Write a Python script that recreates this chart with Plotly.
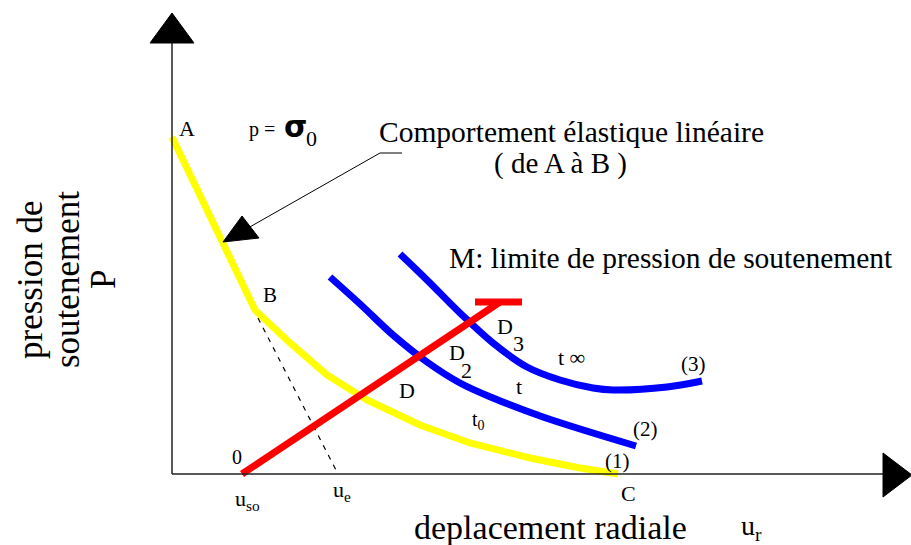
import plotly.graph_objects as go

# Origin of the diagram at axes crossing; u = radial displacement, P = support pressure (schematic units)
# Curve (1): ground reaction curve A -> B (elastic, linear) -> C
curve1_u = [0, 83, 118, 155, 195, 248, 298, 358, 408, 446]
curve1_p = [337, 164, 131, 99, 74, 49, 31, 16, 6, 0]

# Curve (2): at time t
curve2_u = [158, 188, 221, 255, 288, 321, 371, 464]
curve2_p = [197, 170, 139, 112, 91, 76, 57, 28]

# Curve (3): at time t-infinity
curve3_u = [228, 255, 288, 321, 355, 388, 421, 441, 495, 530]
curve3_p = [220, 194, 161, 131, 107, 94, 86, 84, 87, 93]

# Support confinement line (red) from u_so, with its pressure limit M
support_u = [70, 328, None, 303, 350]
support_p = [0, 172, None, 172, 172]

# Elastic extension from B down to u_e (dashed)
elastic_u = [86, 166]
elastic_p = [156, 0]

FONT = "Liberation Serif"


def px(x):
    return x - 172


def py(y):
    return 474 - y


fig = go.Figure()

fig.add_trace(go.Scatter(x=elastic_u, y=elastic_p, mode="lines",
                         line=dict(color="black", width=1.2, dash="5px,6px"), hoverinfo="skip"))
fig.add_trace(go.Scatter(x=curve1_u, y=curve1_p, mode="lines",
                         line=dict(color="#ffff00", width=7), hoverinfo="skip"))
fig.add_trace(go.Scatter(x=curve2_u, y=curve2_p, mode="lines", line_shape="spline",
                         line=dict(color="#0000ff", width=7), hoverinfo="skip"))
fig.add_trace(go.Scatter(x=curve3_u, y=curve3_p, mode="lines", line_shape="spline",
                         line=dict(color="#0000ff", width=7), hoverinfo="skip"))
fig.add_trace(go.Scatter(x=support_u, y=support_p, mode="lines",
                         line=dict(color="#ff0000", width=7), hoverinfo="skip"))

shapes = []
# axes
shapes.append(dict(type="line", x0=0, y0=0, x1=0, y1=py(43), line=dict(color="#222", width=1.5)))
shapes.append(dict(type="line", x0=0, y0=0, x1=px(883), y1=0, line=dict(color="#222", width=1.5)))
# arrow heads
shapes.append(dict(type="path",
                   path=f"M {px(150)},{py(43)} L {px(172)},{py(13)} L {px(194)},{py(43)} Z",
                   fillcolor="black", line=dict(color="black", width=1)))
shapes.append(dict(type="path",
                   path=f"M {px(883)},{py(453)} L {px(912)},{py(475)} L {px(883)},{py(497)} Z",
                   fillcolor="black", line=dict(color="black", width=1)))
# annotation pointer for elastic behaviour
shapes.append(dict(type="line", x0=px(402), y0=py(153), x1=px(380), y1=py(153),
                   line=dict(color="black", width=1)))
shapes.append(dict(type="line", x0=px(380), y0=py(153), x1=px(248), y1=py(228),
                   line=dict(color="black", width=1)))
shapes.append(dict(type="path",
                   path=f"M {px(242)},{py(216)} L {px(259)},{py(238)} L {px(223)},{py(242)} Z",
                   fillcolor="black", line=dict(color="black", width=1)))
fig.update_layout(shapes=shapes)

labels = [
    ("A", 187, 128, 22, FONT),
    ("p =", 262, 129, 20, FONT),
    ("<b>σ</b>", 295, 126, 30, "DejaVu Sans"),
    ("0", 311, 138, 22, FONT),
    ("Comportement élastique linéaire", 571, 132, 29.5, FONT),
    ("( de A à B )", 560, 163, 29, FONT),
    ("M: limite de pression de soutenement", 671, 258, 29.5, FONT),
    ("B", 270, 295, 21, FONT),
    ("D", 407, 390, 22, FONT),
    ("D", 457, 352, 22, FONT),
    ("2", 466, 370, 22, FONT),
    ("D", 505, 326, 22, FONT),
    ("3", 518, 343, 22, FONT),
    ("t", 519, 386, 22, FONT),
    ("t ∞", 571, 357, 22, FONT),
    ("t<sub>0</sub>", 478, 420, 20, FONT),
    ("(3)", 693, 364, 21, FONT),
    ("(2)", 645, 429, 21, FONT),
    ("(1)", 617, 461, 21, FONT),
    ("0", 237, 457, 20, FONT),
    ("u<sub>so</sub>", 247, 500, 22, FONT),
    ("u<sub>e</sub>", 342, 491, 22, FONT),
    ("C", 628, 493, 22, FONT),
    ("deplacement radiale", 550, 527, 34, FONT),
    ("u<sub>r</sub>", 751, 527, 28, FONT),
]
annotations = []
for text, x, y, size, fam in labels:
    annotations.append(dict(text=text, x=px(x), y=py(y), xref="x", yref="y", showarrow=False,
                            xanchor="center", yanchor="middle",
                            font=dict(family=fam, size=size, color="black")))

for text, x in [("pression de", 30), ("soutenement", 67), ("P", 103)]:
    annotations.append(dict(text=text, x=px(x), y=py(280), xref="x", yref="y", showarrow=False,
                            textangle=-90, xanchor="center", yanchor="middle",
                            font=dict(family=FONT, size=35, color="black")))
fig.update_layout(annotations=annotations)

fig.update_layout(
    width=911, height=545,
    margin=dict(l=0, r=0, t=0, b=0),
    paper_bgcolor="white", plot_bgcolor="white",
    showlegend=False,
    xaxis=dict(range=[-172, 739], visible=False, fixedrange=True),
    yaxis=dict(range=[-71, 474], visible=False, fixedrange=True),
)

fig.write_html("out.html", config={"displayModeBar": False},
               post_script="document.body.style.margin='0px';document.body.style.overflow='hidden';")
